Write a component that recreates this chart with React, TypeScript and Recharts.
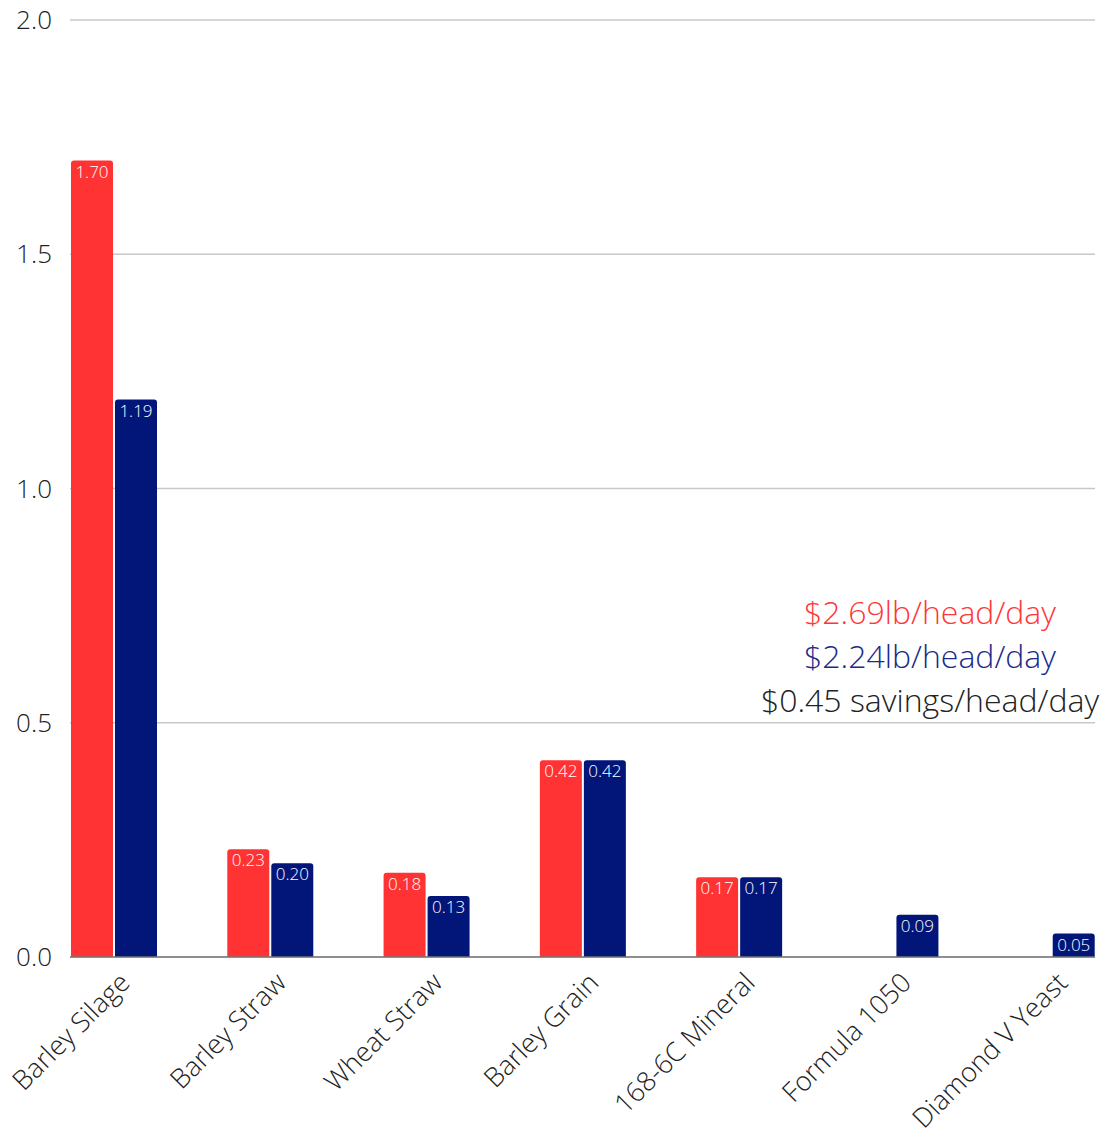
import { BarChart, Bar, XAxis, YAxis, CartesianGrid, LabelList } from 'recharts'

const categories = ['Barley Silage', 'Barley Straw', 'Wheat Straw', 'Barley Grain', '168-6C Mineral', 'Formula 1050', 'Diamond V Yeast']
const currentCost = [1.7, 0.23, 0.18, 0.42, 0.17, null, null]
const newCost = [1.19, 0.2, 0.13, 0.42, 0.17, 0.09, 0.05]
const yTicks = [0, 0.5, 1, 1.5, 2]
const notes = [
  { text: '$2.69lb/head/day', color: '#ff3636' },
  { text: '$2.24lb/head/day', color: '#1a2a8a' },
  { text: '$0.45 savings/head/day', color: '#222222' },
]

const data = categories.map((name, i) => ({ name, current: currentCost[i], next: newCost[i] }))

const FONT = '"Open Sans", sans-serif'

function CategoryTick({ x, y, payload }: any) {
  return (
    <g transform={`translate(${x + 3},${y + 5})`}>
      <text
        transform="rotate(-45)"
        textAnchor="end"
        dy="0.75em"
        fontSize={27}
        fontWeight={300}
        fontFamily={FONT}
        fill="#222"
      >
        {payload.value}
      </text>
    </g>
  )
}

const fmt = (v: any) => (v == null ? '' : Number(v).toFixed(2))

export default function App() {
  return (
    <div style={{ position: 'absolute', left: 0, top: 0, width: 1100, height: 1130, background: '#fff' }}>
      <BarChart
        width={1100}
        height={1130}
        data={data}
        margin={{ top: 20, right: 5, bottom: 0, left: 0 }}
        barSize={42}
        barGap={2}
      >
        <CartesianGrid vertical={false} stroke="#c8c8c8" strokeWidth={1.5} />
        <XAxis
          dataKey="name"
          height={173}
          interval={0}
          padding={{ left: -34, right: -35 }}
          tick={<CategoryTick />}
          tickLine={false}
          axisLine={{ stroke: '#777', strokeWidth: 1.5 }}
        />
        <YAxis
          width={70}
          domain={[0, 2]}
          ticks={yTicks}
          tickFormatter={(v: number) => v.toFixed(1)}
          axisLine={false}
          tickLine={false}
          tickSize={0}
          tickMargin={18}
          tick={{ fontSize: 26, fontWeight: 300, fontFamily: FONT, fill: '#222' }}
        />
        <Bar dataKey="current" fill="#ff3333" radius={[3, 3, 0, 0]} isAnimationActive={false}>
          <LabelList dataKey="current" position="insideTop" offset={5} formatter={fmt} fill="#fff" fontSize={17} fontWeight={300} fontFamily={FONT} />
        </Bar>
        <Bar dataKey="next" fill="#02167a" radius={[3, 3, 0, 0]} isAnimationActive={false}>
          <LabelList dataKey="next" position="insideTop" offset={5} formatter={fmt} fill="#fff" fontSize={17} fontWeight={300} fontFamily={FONT} />
        </Bar>
      </BarChart>
      <div
        style={{
          position: 'absolute',
          left: 730,
          top: 590,
          width: 400,
          textAlign: 'center',
          fontFamily: FONT,
          fontWeight: 300,
          fontSize: 32,
          lineHeight: '44px',
        }}
      >
        {notes.map((n) => (
          <div key={n.text} style={{ color: n.color }}>{n.text}</div>
        ))}
      </div>
    </div>
  )
}
